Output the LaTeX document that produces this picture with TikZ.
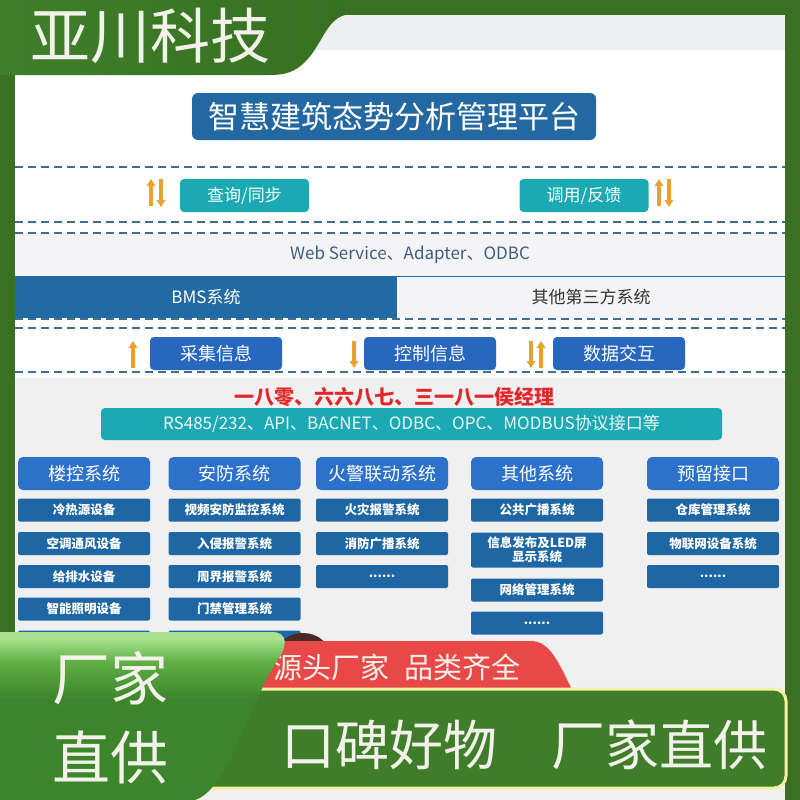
\documentclass[tikz,border=0pt]{standalone}
\usepackage{fontspec}
\setmainfont{Noto Sans CJK SC}
\usetikzlibrary{arrows.meta}
\definecolor{deepgreen}{HTML}{3A7022}
\definecolor{hdgreenA}{HTML}{3F7F2B}
\definecolor{hdgreenB}{HTML}{5C9F44}
\definecolor{hdgreenC}{HTML}{367020}
\definecolor{topgray}{HTML}{EEEFF1}
\definecolor{panelgray}{HTML}{F0F0F0}
\definecolor{bandgray}{HTML}{F4F4F6}
\definecolor{titleblue}{HTML}{2468A2}
\definecolor{tealc}{HTML}{1BA9B4}
\definecolor{btnblue}{HTML}{2767BE}
\definecolor{headblue}{HTML}{2D72CA}
\definecolor{itemblue}{HTML}{1E67A4}
\definecolor{bmsblue}{HTML}{226AA4}
\definecolor{dashc}{HTML}{3D6F8E}
\definecolor{arrowc}{HTML}{E9A12F}
\definecolor{redtext}{HTML}{E3262A}
\definecolor{webtext}{HTML}{3F5E7F}
\definecolor{bargreen}{HTML}{3F7D2A}
\definecolor{baryellow}{HTML}{F4F2A0}
\definecolor{tabred}{HTML}{E84848}
\definecolor{curlshadow}{HTML}{4A2A24}
\definecolor{bannerlight}{HTML}{A8E28F}
\definecolor{bannermid}{HTML}{5FAE44}
\definecolor{bannergreen}{HTML}{3D852A}
\definecolor{offwhite}{HTML}{F2F2EA}
\pgfdeclareverticalshading{bannershade}{100bp}{color(0bp)=(bannergreen); color(55bp)=(bannergreen); color(66bp)=(bannermid); color(73bp)=(bannerlight); color(100bp)=(bannerlight)}
\begin{document}
\begin{tikzpicture}
[x=1pt, y=-1pt, font=\fontsize{17}{20}\selectfont]
\tikzstyle{platform}=[rounded corners=6pt, fill=titleblue, text=white, minimum width=404pt, minimum height=47pt, font=\fontsize{31}{33}\selectfont]
\tikzstyle{flow}=[rounded corners=4pt, fill=tealc, text=white, minimum width=129pt, minimum height=33pt]
\tikzstyle{action}=[rounded corners=4pt, fill=btnblue, text=white, minimum width=132pt, minimum height=33pt, font=\fontsize{18}{20}\selectfont]
\tikzstyle{group}=[rounded corners=5pt, fill=headblue, text=white, minimum width=132pt, minimum height=33pt, font=\fontsize{18}{20}\selectfont]
\tikzstyle{item}=[rounded corners=2pt, fill=itemblue, text=white, minimum width=132pt, minimum height=23pt, inner sep=1pt, align=center, font=\bfseries\fontsize{12.5}{15}\selectfont]
\tikzstyle{updown}=[line width=3.4pt, draw=arrowc, -{Triangle[length=7pt,width=8.5pt]}]
\tikzstyle{sep}=[line width=1.3pt, draw=dashc, dash pattern=on 8pt off 5pt]
\useasboundingbox (0,0) rectangle (800,800);

\fill[deepgreen] (0,0) rectangle (800,800);
\fill[topgray] (15,15) rectangle (785,50);
\fill[white] (15,50) rectangle (785,378);
\fill[panelgray] (15,378) rectangle (785,800);
\fill[bandgray] (15,233) rectangle (785,276);
\fill[bmsblue] (15,276) rectangle (397,318);
\fill[bandgray] (397,276) rectangle (785,318);
\draw[bmsblue, line width=1pt] (397,276) -- (785,276);
\shade[left color=hdgreenA, middle color=hdgreenB, right color=hdgreenC] (0,0) -- (345,0) -- (345,15) .. controls (326,20) and (322,45) .. (305,62) .. controls (295,72) and (285,75) .. (270,75) -- (0,75) -- cycle;
\node[text=offwhite, font=\fontsize{60}{62}\selectfont]	(brand)	at (150,36)	{亚川科技};

\node[platform]	(platform)	at (394,116.5)	{智慧建筑态势分析管理平台};

\draw[sep] (15,167) -- (785,167);
\draw[sep] (15,222) -- (785,222);
\draw[sep] (15,233) -- (785,233);
\draw[sep] (15,319) -- (785,319);
\draw[sep] (15,328) -- (785,328);
\draw[sep] (15,372) -- (785,372);

\node[flow]	(query)	at (244.5,195.5)	{查询/同步};
\node[flow]	(invoke)	at (584,195.5)	{调用/反馈};
\node[text=webtext]	(web)	at (410,255)	{Web Service、Adapter、ODBC};
\node[text=white]	(bms)	at (206,297)	{BMS系统};
\node[text=black!80]	(third)	at (591,297)	{其他第三方系统};

\node[action]	(collect)	at (216,353.5)	{采集信息};
\node[action]	(control)	at (430,353.5)	{控制信息};
\node[action]	(exchange)	at (619,353.5)	{数据交互};

\coordinate (qa) at (151,206);	\coordinate (qb) at (151,179);
\coordinate (qc) at (161,179);	\coordinate (qd) at (161,207);
\coordinate (ia) at (659,206);	\coordinate (ib) at (659,179);
\coordinate (ic) at (669,179);	\coordinate (id) at (669,207);
\coordinate (ca) at (133,368);	\coordinate (cb) at (133,341);
\coordinate (ka) at (354,341);	\coordinate (kb) at (354,368);
\coordinate (ea) at (531,341);	\coordinate (eb) at (531,368);
\coordinate (ec) at (541,368);	\coordinate (ed) at (541,341);
\draw[updown] (qa) -- (qb);
\draw[updown] (qc) -- (qd);
\draw[updown] (ia) -- (ib);
\draw[updown] (ic) -- (id);
\draw[updown] (ca) -- (cb);
\draw[updown] (ka) -- (kb);
\draw[updown] (ea) -- (eb);
\draw[updown] (ec) -- (ed);

\node[text=redtext, font=\bfseries\fontsize{20}{22}\selectfont]	(phone)	at (394,397)	{一八零、六六八七、三一八一侯经理};
\node[rounded corners=4pt, fill=tealc, text=white!92!tealc, minimum width=621pt, minimum height=32pt]	(protocol)	at (411.5,424)	{RS485/232、API、BACNET、ODBC、OPC、MODBUS协议接口等};

\node[group]	(bas)	at (84,473.5)	{楼控系统};
\node[group]	(sec)	at (234.5,473.5)	{安防系统};
\node[group]	(fire)	at (382,473.5)	{火警联动系统};
\node[group]	(misc)	at (537,473.5)	{其他系统};
\node[group]	(spare)	at (713,473.5)	{预留接口};

\node[item]	(bas1)	at (84,510)	{冷热源设备};
\node[item]	(bas2)	at (84,543.5)	{空调通风设备};
\node[item]	(bas3)	at (84,576.5)	{给排水设备};
\node[item]	(bas4)	at (84,609)	{智能照明设备};
\node[item]	(bas5)	at (84,642)	{};
\node[item]	(sec1)	at (234.5,510)	{视频安防监控系统};
\node[item]	(sec2)	at (234.5,543.5)	{入侵报警系统};
\node[item]	(sec3)	at (234.5,576.5)	{周界报警系统};
\node[item]	(sec4)	at (234.5,609)	{门禁管理系统};
\node[item]	(sec5)	at (234.5,642)	{};
\node[item]	(fire1)	at (382,510)	{火灾报警系统};
\node[item]	(fire2)	at (382,543.5)	{消防广播系统};
\node[item]	(fire3)	at (382,576.5)	{......};
\node[item]	(misc1)	at (537,510)	{公共广播系统};
\node[item, minimum height=35pt, font=\bfseries\fontsize{12.5}{14}\selectfont]	(misc2)	at (537,550)	{信息发布及LED屏\\显示系统};
\node[item]	(misc3)	at (537,590)	{网络管理系统};
\node[item]	(misc4)	at (537,623)	{......};
\node[item]	(spare1)	at (713,510)	{仓库管理系统};
\node[item]	(spare2)	at (713,543.5)	{物联网设备系统};
\node[item]	(spare3)	at (713,576.5)	{......};

\fill[curlshadow] (303,656) ellipse [x radius=27pt, y radius=23pt];
\fill[tabred] (240,690) -- (240,641) -- (530,641) .. controls (548,641) and (556,656) .. (572,690) -- cycle;
\node[text=offwhite, font=\fontsize{29}{31}\selectfont]	(slogan)	at (397,667)	{源头厂家\enspace 品类齐全};
\draw[fill=bargreen, draw=baryellow, line width=3pt, rounded corners=12pt] (150,689) rectangle (786,788);
\node[text=offwhite, font=\fontsize{54}{56}\selectfont]	(praise)	at (524,745)	{口碑好物\quad 厂家直供};
\shade[shading=bannershade] (0,632) -- (272,632) .. controls (288,632) and (288,646) .. (277,661) .. controls (262,684) and (245,728) .. (232,755) .. controls (221,777) and (210,795) .. (195,800) -- (0,800) -- cycle;
\node[text=offwhite, font=\fontsize{58}{60}\selectfont]	(maker)	at (110,678)	{厂家};
\node[text=offwhite, font=\fontsize{58}{60}\selectfont]	(direct)	at (110,757)	{直供};
\end{tikzpicture}
\end{document}
